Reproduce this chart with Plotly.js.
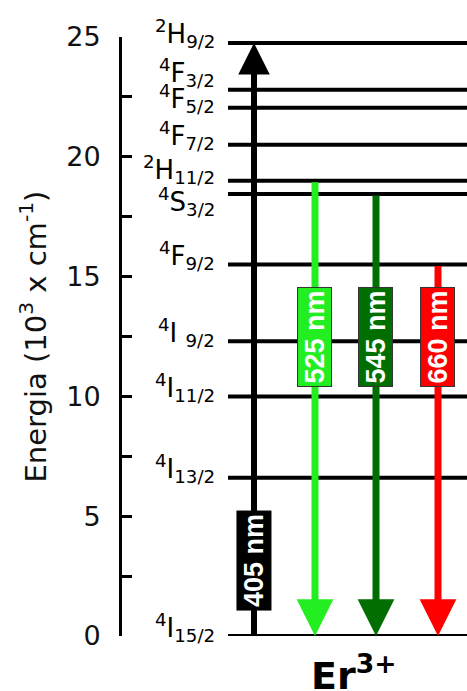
<!DOCTYPE html>
<html>
<head>
<meta charset="utf-8">
<script src="https://cdn.plot.ly/plotly-3.0.1.min.js"></script>
<style>html,body{margin:0;padding:0;background:#fff;}#chart{width:467px;height:691px;}</style>
</head>
<body>
<div id="chart"></div>
<script>
// ---- data ----
const levelNames = [
  '<sup>4</sup>I<sub>15/2</sub>',
  '<sup>4</sup>I<sub>13/2</sub>',
  '<sup>4</sup>I<sub>11/2</sub>',
  '<sup>4</sup>I <sub>9/2</sub>',
  '<sup>4</sup>F<sub>9/2</sub>',
  '<sup>4</sup>S<sub>3/2</sub>',
  '<sup>2</sup>H<sub>11/2</sub>',
  '<sup>4</sup>F<sub>7/2</sub>',
  '<sup>4</sup>F<sub>5/2</sub>',
  '<sup>4</sup>F<sub>3/2</sub>',
  '<sup>2</sup>H<sub>9/2</sub>'
];
const levelEnergies = [0, 6.6, 10.0, 12.3, 15.5, 18.45, 19.0, 20.5, 22.05, 22.8, 24.75]; // 10^3 cm^-1

const transitionLabels = ['405 nm', '525 nm', '545 nm', '660 nm'];
const transitionUpperLevel = [10, 6, 5, 4];   // index into levelNames
const transitionLowerLevel = [0, 0, 0, 0];
const transitionIsAbsorption = [true, false, false, false];

const ionLabel = 'Er<sup>3+</sup>';
const yTitle = 'Energia (10<sup>3</sup> x cm<sup>-1</sup>)';
const yTickVals = [0, 5, 10, 15, 20, 25];

// ---- style ----
const lineStartX = 106, lineEndX = 345;
const arrowX = [132, 193, 254, 316];
const arrowColors = ['#000000', '#22ee22', '#006e00', '#ff0000'];
const arrowWidths = [6, 7, 7, 7];
const arrowSizes = [1.05, 1.05, 1.05, 1.05];
const boxCenterY = [3.15, 12.48, 12.48, 12.48];
const labelShiftPx = {5: -17, 9: 8, 6: 2};

const shapes = levelEnergies.map(e => ({
  type: 'line', xref: 'x', yref: 'y', x0: lineStartX, x1: lineEndX, y0: e, y1: e,
  line: {color: '#000', width: 4}, layer: 'below'
}));

const annotations = [];
levelNames.forEach((n, i) => {
  annotations.push({
    x: lineStartX - 11, y: levelEnergies[i], xref: 'x', yref: 'y',
    text: n, showarrow: false, xanchor: 'right', yanchor: 'middle',
    yshift: 9 + (labelShiftPx[i] || 0),
    font: {family: 'DejaVu Sans', size: 26, color: '#000'}
  });
});
transitionLabels.forEach((t, i) => {
  const up = levelEnergies[transitionUpperLevel[i]];
  const lo = levelEnergies[transitionLowerLevel[i]];
  const head = transitionIsAbsorption[i] ? up : lo;
  const tail = transitionIsAbsorption[i] ? lo : up;
  annotations.push({
    x: arrowX[i], y: head, ax: arrowX[i], ay: tail,
    xref: 'x', yref: 'y', axref: 'x', ayref: 'y',
    text: '', showarrow: true, arrowhead: 2, arrowsize: arrowSizes[i],
    arrowwidth: arrowWidths[i], arrowcolor: arrowColors[i], standoff: 0
  });
});
transitionLabels.forEach((t, i) => {
  annotations.push({
    x: arrowX[i], y: boxCenterY[i], xref: 'x', yref: 'y',
    text: '<b>' + t + '</b>', textangle: -90, showarrow: false,
    width: 98, height: 33, bgcolor: arrowColors[i],
    bordercolor: i === 0 ? '#000' : '#333', borderwidth: 1, borderpad: 0,
    font: {family: 'Liberation Sans', size: 27, color: '#fff'}
  });
});
annotations.push({
  x: 232, y: 0, xref: 'x', yref: 'paper', text: '<b>' + ionLabel + '</b>',
  showarrow: false, xanchor: 'center', yanchor: 'top', yshift: -10,
  font: {family: 'DejaVu Sans', size: 38, color: '#000'}
});

const layout = {
  width: 467, height: 691,
  margin: {l: 122, r: 0, t: 37, b: 55, pad: 0},
  paper_bgcolor: '#fff', plot_bgcolor: '#fff',
  showlegend: false,
  xaxis: {range: [0, 345], visible: false, fixedrange: true},
  yaxis: {
    range: [0, 25], showgrid: false, zeroline: false,
    showline: true, linecolor: '#000', linewidth: 3,
    ticks: 'inside', ticklen: 10, tickwidth: 3, tickcolor: '#000',
    tickvals: yTickVals, ticktext: yTickVals.map(String),
    minor: {dtick: 2.5, tick0: 0, ticks: 'inside', ticklen: 10, tickwidth: 3, tickcolor: '#000', showgrid: false},
    tickfont: {family: 'DejaVu Sans', size: 27, color: '#111'},
    ticklabelstandoff: 13,
    title: {text: yTitle, font: {family: 'DejaVu Sans', size: 29, color: '#111'}, standoff: 12}
  },
  shapes: shapes,
  annotations: annotations
};

Plotly.newPlot('chart', [{x: [], y: [], type: 'scatter', mode: 'lines', hoverinfo: 'skip'}], layout, {staticPlot: true, displayModeBar: false});
</script>
</body>
</html>
